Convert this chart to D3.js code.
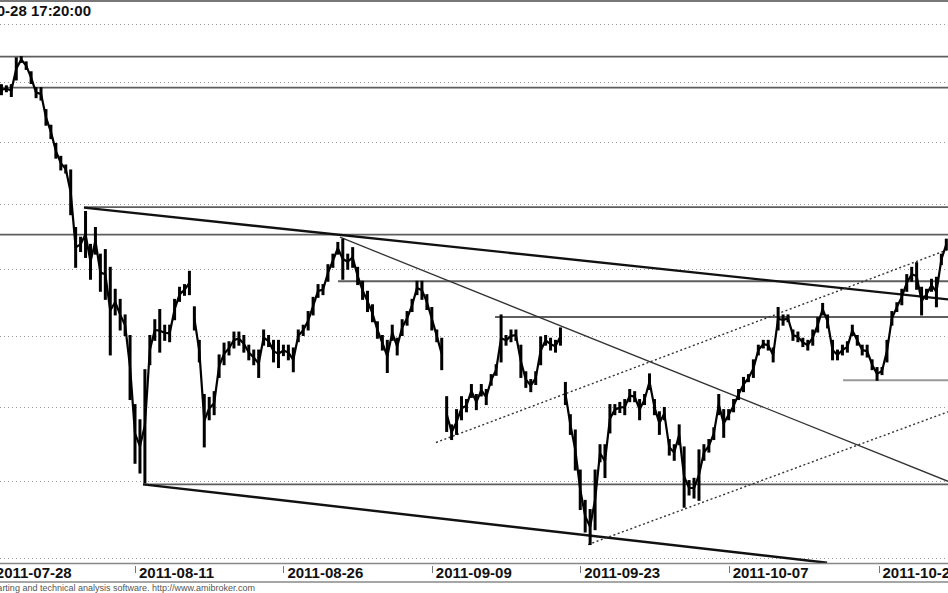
<!DOCTYPE html>
<html><head><meta charset="utf-8">
<script src="https://cdn.jsdelivr.net/npm/d3@7/dist/d3.min.js"></script>
<style>html,body{margin:0;padding:0;background:#fff;}svg{display:block;}</style>
</head><body>
<script>
// ---- DATA ----
const high = [2695,2693,2695,2741,2743,2734,2717,2690,2690,2653,2627,2597,2576,2562,2554,2463,2448,2488,2437,2463,
2422,2429,2402,2369,2354,2331,2301,2203,2182,2252,2301,2324,2339,2316,2316,2354,2372,2376,2396,2343,
2294,2217,2213,2221,2273,2290,2292,2306,2306,2301,2287,2280,2280,2309,2301,2294,2294,2287,2287,2283,
2309,2316,2336,2357,2376,2376,2406,2422,2440,2445,2422,2432,2402,2381,2366,2346,2321,2301,2294,2316,
2297,2324,2336,2354,2381,2381,2361,2342,2309,2297,2214,2175,2196,2214,2210,2231,2217,2231,2224,2245,
2259,2331,2301,2309,2309,2287,2249,2238,2249,2299,2301,2297,2294,2312,2234,2189,2168,2114,2074,2062,
2114,2148,2148,2203,2203,2206,2210,2224,2221,2210,2217,2246,2210,2193,2199,2155,2148,2175,2145,2100,
2103,2141,2148,2155,2171,2217,2196,2196,2210,2224,2241,2245,2266,2287,2294,2294,2283,2342,2331,2331,
2309,2306,2297,2294,2309,2327,2348,2331,2294,2280,2287,2292,2316,2301,2287,2287,2266,2255,2255,2294,
2336,2349,2369,2391,2402,2409,2372,2369,2384,2387,2422,2445];
const low = [2678,2683,2675,2703,2733,2721,2697,2673,2669,2627,2605,2573,2554,2549,2483,2402,2426,2417,2384,2422,
2366,2354,2273,2331,2309,2301,2210,2123,2110,2097,2259,2294,2277,2294,2292,2324,2351,2360,2361,2309,
2263,2145,2182,2189,2241,2259,2273,2283,2287,2277,2266,2259,2241,2287,2285,2263,2255,2272,2266,2249,
2292,2301,2309,2331,2357,2361,2381,2402,2422,2384,2399,2402,2376,2354,2336,2321,2297,2280,2248,2294,
2273,2301,2316,2336,2361,2354,2339,2309,2292,2252,2166,2155,2162,2182,2193,2213,2196,2215,2203,2230,
2244,2263,2287,2292,2294,2241,2227,2221,2231,2259,2287,2280,2277,2287,2203,2162,2114,2062,2033,2017,
2036,2125,2104,2164,2189,2192,2189,2207,2207,2182,2203,2224,2189,2162,2182,2134,2127,2148,2065,2081,
2077,2074,2127,2138,2155,2189,2158,2182,2193,2210,2221,2235,2241,2273,2283,2280,2263,2309,2316,2321,
2294,2292,2285,2280,2287,2306,2331,2312,2266,2266,2273,2277,2301,2287,2273,2270,2252,2237,2245,2263,
2316,2336,2346,2366,2381,2369,2331,2354,2366,2343,2406,2429];
const sessionBreaks = [38, 89, 113];            // bar index after which a gap occurs
const barsPerDay = 3, firstBarDay = 1;          // bar i sits at trading day firstBarDay + i/barsPerDay
const gridPrices = [2000,2100,2200,2300,2400,2500,2600,2700,2800];
const tickLabels = ["2011-07-28","2011-08-11","2011-08-26","2011-09-09","2011-09-23","2011-10-07","2011-10-21"];
const tickDays = [0.35,10,20,30,40,50,60.1];
const hLevels = [ // price level, starting trading day
  {p:2743,d:0},{p:2690,d:0},{p:2495,d:6.56},{p:2452,d:0},{p:2381,d:23.68},{p:2328,d:34.26},{p:2095,d:10.54}
];
const hLevelLight = [{p:2237,d:57.71}];
const thickTrend = [{d1:6.56,p1:2494,d2:64.78,p2:2354},{d1:10.54,p1:2095,d2:56.63,p2:1994}];
const thinTrend = [{d1:23.81,p1:2448,d2:64.78,p2:2099}];
const dottedTrend = [{d1:30.28,p1:2151,d2:64.78,p2:2429},{d1:40.53,p1:2017,d2:64.78,p2:2193}];
const titleText = "2011-10-28 17:20:00";
const footerText = "AmiBroker - charting and technical analysis software. http://www.amibroker.com";

// ---- CHART ----
const W = 948, H = 593;
const plotTop = 3, plotBottom = 563;
const svg = d3.select("body").append("svg").attr("width", W).attr("height", H);

const x = d3.scaleLinear().domain([0.903, 64.78]).range([0, W]);
const y = d3.scaleLog().domain([2000, 2800]).range([558, 24]);
const dayOf = i => firstBarDay + i / barsPerDay;

svg.append("defs").append("clipPath").attr("id","clip")
  .append("rect").attr("x",0).attr("y",plotTop).attr("width",W).attr("height",plotBottom-plotTop);

// top border
svg.append("line").attr("x1",0).attr("x2",W).attr("y1",1).attr("y2",1)
  .attr("stroke","#777").attr("stroke-width",2);

const g = svg.append("g").attr("clip-path","url(#clip)");

// grid
g.selectAll(".grid").data(gridPrices).join("line")
  .attr("x1",0).attr("x2",W).attr("y1",d=>Math.round(y(d))+0.5).attr("y2",d=>Math.round(y(d))+0.5)
  .attr("stroke","#999").attr("stroke-width",1).attr("stroke-dasharray","1,3");

// horizontal levels
g.selectAll(".hl").data(hLevels).join("line")
  .attr("x1",d=>x(d.d)).attr("x2",W).attr("y1",d=>y(d.p)).attr("y2",d=>y(d.p))
  .attr("stroke","#5e5e5e").attr("stroke-width",1.8);
g.selectAll(".hll").data(hLevelLight).join("line")
  .attr("x1",d=>x(d.d)).attr("x2",W).attr("y1",d=>y(d.p)).attr("y2",d=>y(d.p))
  .attr("stroke","#999").attr("stroke-width",2);

// trend lines
g.selectAll(".tt").data(thickTrend).join("line")
  .attr("x1",d=>x(d.d1)).attr("y1",d=>y(d.p1)).attr("x2",d=>x(d.d2)).attr("y2",d=>y(d.p2))
  .attr("stroke","#111").attr("stroke-width",2.4);
g.selectAll(".tn").data(thinTrend).join("line")
  .attr("x1",d=>x(d.d1)).attr("y1",d=>y(d.p1)).attr("x2",d=>x(d.d2)).attr("y2",d=>y(d.p2))
  .attr("stroke","#333").attr("stroke-width",1.3);
g.selectAll(".td").data(dottedTrend).join("line")
  .attr("x1",d=>x(d.d1)).attr("y1",d=>y(d.p1)).attr("x2",d=>x(d.d2)).attr("y2",d=>y(d.p2))
  .attr("stroke","#333").attr("stroke-width",1.4).attr("stroke-dasharray","2,2.5");

// price bars
const bars = high.map((h,i)=>({i, h, l: low[i]}));
g.selectAll(".bar").data(bars).join("line")
  .attr("x1",d=>x(dayOf(d.i))).attr("x2",d=>x(dayOf(d.i)))
  .attr("y1",d=>y(d.h)-0.5).attr("y2",d=>y(d.l)+0.5)
  .attr("stroke","#000").attr("stroke-width",3);
const line = d3.line().x(d=>x(dayOf(d.i))).y(d=>y((d.h+d.l)/2));
let segs = [], cur = [];
bars.forEach(b=>{ cur.push(b); if (sessionBreaks.includes(b.i)) { segs.push(cur); cur = []; } });
segs.push(cur);
g.selectAll(".pl").data(segs).join("path")
  .attr("d", line).attr("fill","none").attr("stroke","#000").attr("stroke-width",2.2)
  .attr("stroke-linejoin","round");

// title
svg.append("text").attr("x",91).attr("y",16).attr("text-anchor","end")
  .attr("font-family","Liberation Sans, Arial, sans-serif").attr("font-weight","bold")
  .attr("font-size",15).attr("fill","#111").text(titleText);

// x axis frame
svg.append("line").attr("x1",0).attr("x2",W).attr("y1",563.5).attr("y2",563.5)
  .attr("stroke","#888").attr("stroke-width",1.5);
svg.append("line").attr("x1",0).attr("x2",W).attr("y1",582).attr("y2",582)
  .attr("stroke","#888").attr("stroke-width",1.5);
const ax = svg.append("g");
ax.selectAll(".tk").data(tickDays).join("line")
  .attr("x1",d=>Math.round(x(d))+0.5).attr("x2",d=>Math.round(x(d))+0.5)
  .attr("y1",566).attr("y2",573).attr("stroke","#777").attr("stroke-width",1);
ax.selectAll(".tl").data(tickDays).join("text")
  .attr("x",d=>x(d)+4).attr("y",578)
  .attr("font-family","Liberation Sans, Arial, sans-serif").attr("font-weight","bold")
  .attr("font-size",15).attr("fill","#111").text((d,k)=>tickLabels[k]);

// footer
svg.append("text").attr("x",255).attr("y",590.5).attr("text-anchor","end")
  .attr("font-family","Liberation Sans, Arial, sans-serif").attr("font-size",9)
  .attr("fill","#555").text(footerText);
</script>
</body></html>
